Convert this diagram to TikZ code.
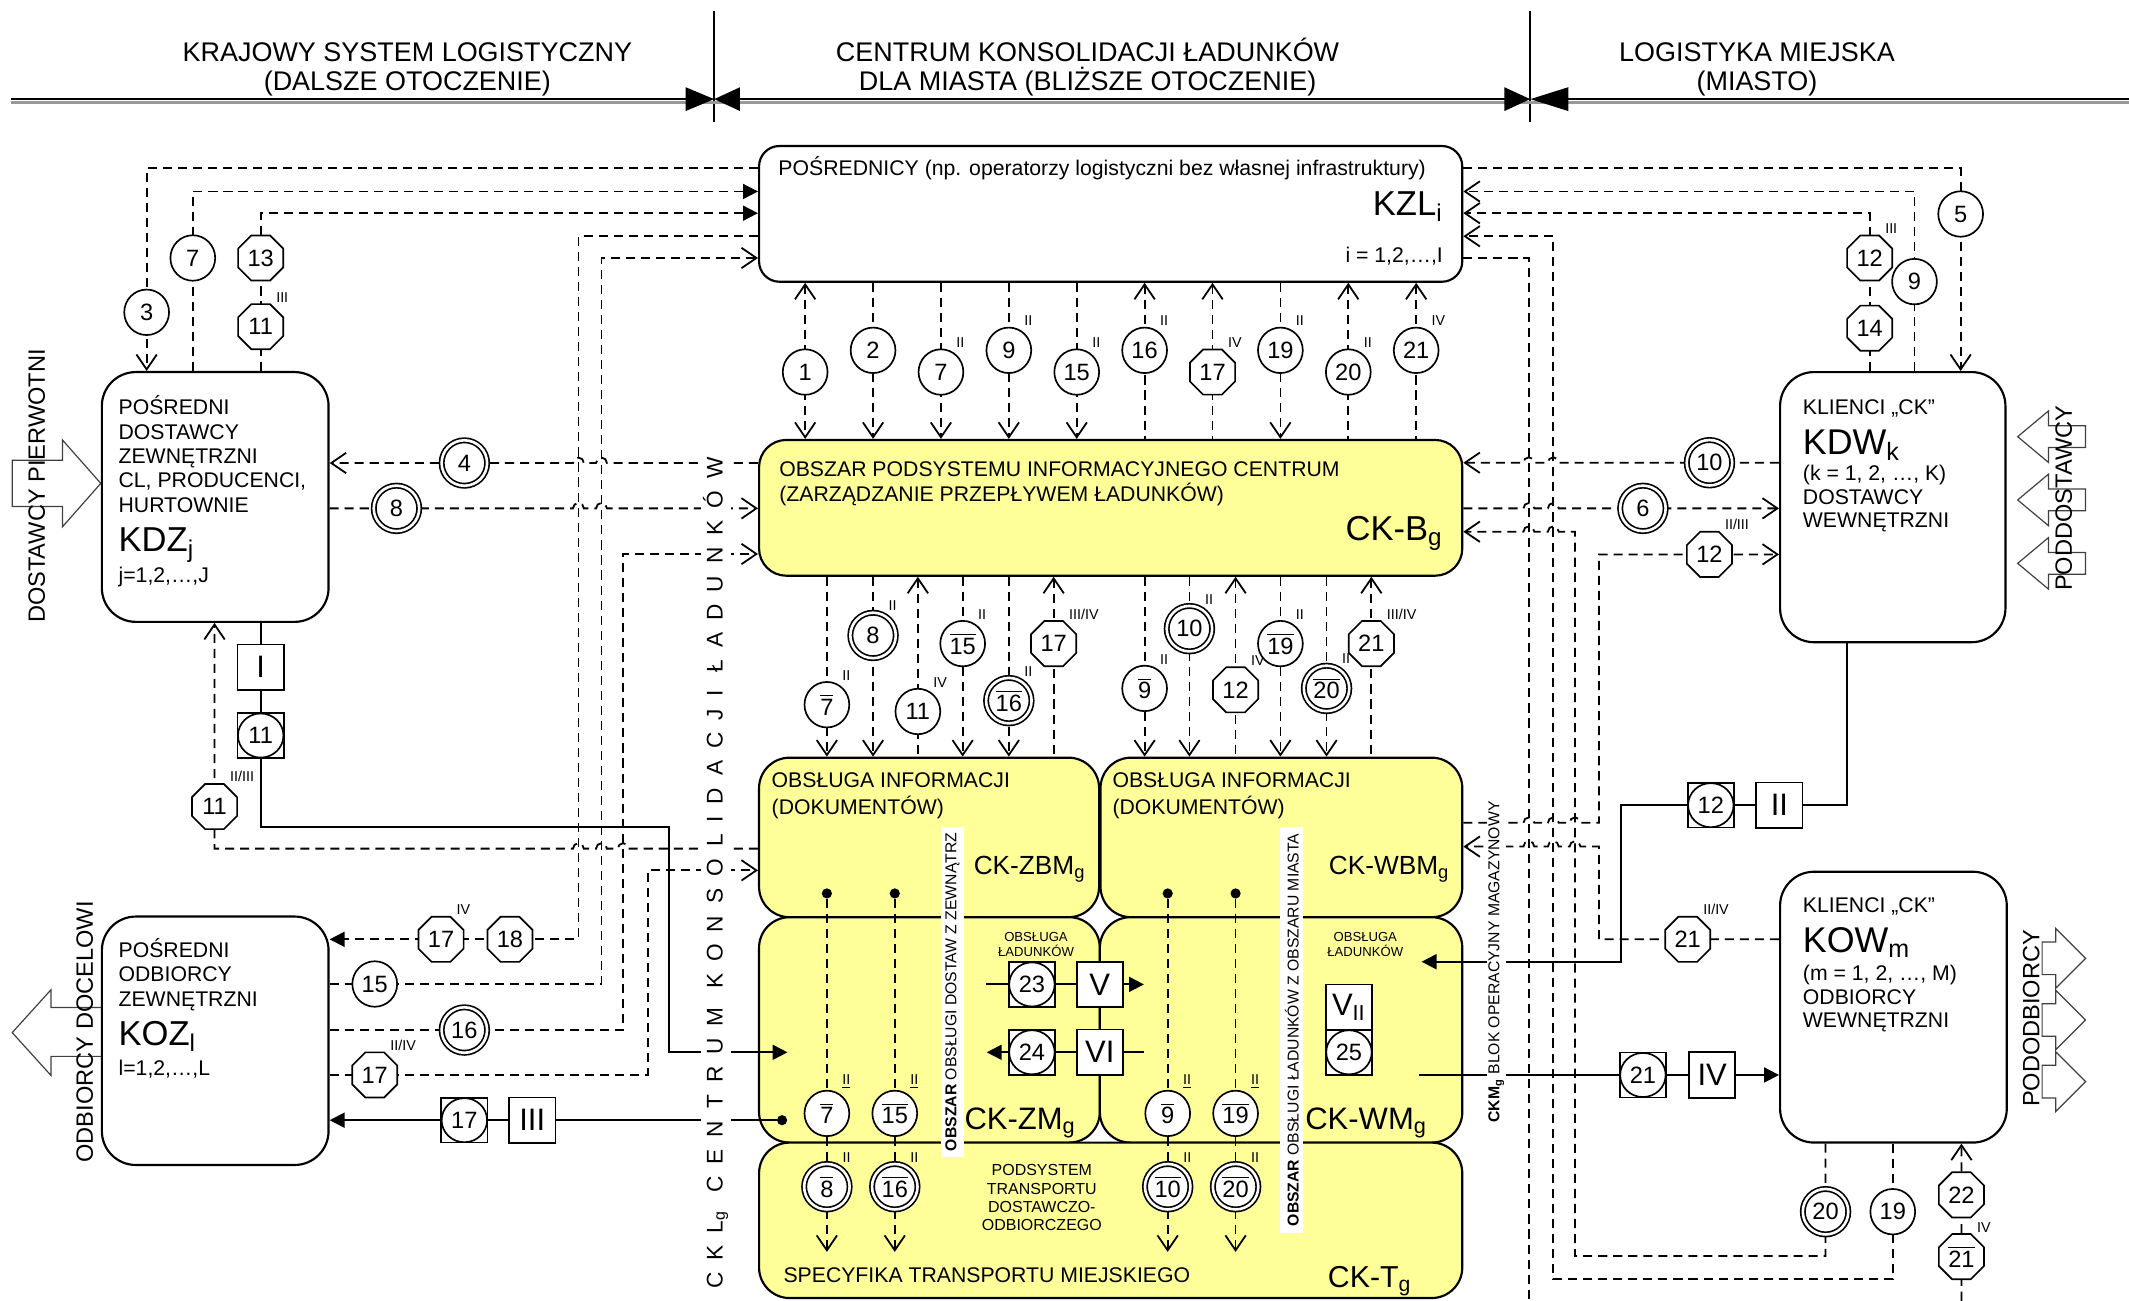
\documentclass[tikz,border=0pt]{standalone}
\usepackage{fontspec}
\setmainfont{Liberation Sans}
\usetikzlibrary{arrows.meta,shapes.geometric,positioning}
\definecolor{ckyellow}{RGB}{255,255,153}
\newcommand\fsz[2]{\fontsize{#1}{#2}\selectfont}
\newcommand\ov[1]{$\overline{\mbox{#1}}$}
\pgfdeclarelayer{boxes}
\pgfdeclarelayer{wires}
\pgfsetlayers{boxes,wires,main}
\tikzset{
  sl/.style={line width=0.85pt},
  hl/.style={line width=1.1pt},
  dl/.style={line width=0.75pt,dash pattern=on 3.8pt off 2.5pt},
  fe/.style={-{Triangle[length=2.2mm,width=2.2mm]}},
  fs/.style={{Triangle[length=2.2mm,width=2.2mm]}-},
  blk/.style={line width=0.5pt,black!75},
  wbox/.style={draw,line width=0.9pt,fill=white,inner sep=0pt},
  ybox/.style={draw,line width=0.9pt,fill=ckyellow,inner sep=0pt,rounded corners=0.45cm},
  num/.style={ellipse,draw,fill=white,line width=0.7pt,inner sep=0pt,minimum width=0.66cm,minimum height=0.67cm,font=\fsz{9.9}{9.9}},
  dnum/.style={num,double,double distance=1.1pt,minimum width=0.67cm,minimum height=0.67cm},
  oct/.style={regular polygon,regular polygon sides=8,draw,fill=white,line width=0.7pt,inner sep=0pt,minimum size=0.72cm,font=\fsz{9.9}{9.9}},
  bnum/.style={rectangle,draw,fill=white,line width=0.7pt,inner sep=0pt,minimum width=0.68cm,minimum height=0.66cm,font=\fsz{9.9}{9.9},
    path picture={\draw[line width=0.7pt] (path picture bounding box.center) ellipse[x radius=0.335cm,y radius=0.325cm];}},
  rom/.style={rectangle,draw,fill=white,line width=0.7pt,inner sep=0pt,minimum width=0.68cm,minimum height=0.67cm,font=\fsz{13}{13}},
  dot/.style={circle,fill,inner sep=0pt,minimum size=0.15cm},
  sup/.style={font=\fsz{6}{6},inner sep=0pt,anchor=south west,yshift=2.5pt},
  hd/.style={font=\fsz{11.3}{11.3},inner sep=0pt,anchor=base},
  txt/.style={font=\fsz{8.9}{8.9},inner sep=0pt,anchor=base west},
  big/.style={font=\fsz{14.5}{14.5},inner sep=0pt},
  vt/.style={rotate=90,font=\fsz{9.9}{9.9},inner sep=0pt},
  strip/.style={rotate=90,fill=white,inner sep=0pt,minimum height=0.34cm,font=\fsz{6.6}{6.6}},
}
\begin{document}
\begin{tikzpicture}[x=0.02cm,y=-0.02cm,>={Straight Barb[length=2.2mm,width=3mm]}]
\useasboundingbox (0,0) rectangle (1568,958);

\coordinate (h0) at (8,73);
\coordinate (h1) at (526,73);
\coordinate (h2) at (1127,73);
\coordinate (h3) at (1568,73);
\draw[sl] (526,8) -- (526,90);
\draw[sl] (1127,8) -- (1127,90);
\draw[black!40,line width=1pt] (8,75.5) -- (1568,75.5);
\draw[hl,-{Triangle[length=4.2mm,width=3.4mm]}] (h0) -- (h1);
\draw[hl,{Triangle[length=3.8mm,width=3.4mm]}-{Triangle[length=3.8mm,width=3.4mm]}] (h1) -- (h2);
\draw[hl,{Triangle[length=5.6mm,width=3.4mm]}-] (h2) -- (h3);
\node[hd] (hl1) at (300,45) {KRAJOWY SYSTEM LOGISTYCZNY};
\node[hd] (hl2) at (300,67) {(DALSZE OTOCZENIE)};
\node[hd] (hc1) at (801,45) {CENTRUM KONSOLIDACJI ŁADUNKÓW};
\node[hd] (hc2) at (801,67) {DLA MIASTA (BLIŻSZE OTOCZENIE)};
\node[hd] (hr1) at (1294,45) {LOGISTYKA MIEJSKA};
\node[hd] (hr2) at (1294,67) {(MIASTO)};

\begin{pgfonlayer}{boxes}
\node[wbox,rounded corners=0.3cm,minimum width=10.36cm,minimum height=2cm] (kzl) at (818,157.5) {};
\node[ybox,rounded corners=0.4cm,minimum width=10.36cm,minimum height=2cm] (ckb) at (818,374) {};
\node[wbox,rounded corners=0.5cm,minimum width=3.34cm,minimum height=3.68cm] (kdz) at (158.5,366) {};
\node[wbox,rounded corners=0.5cm,minimum width=3.34cm,minimum height=3.66cm] (koz) at (158.5,766.5) {};
\node[wbox,rounded corners=0.5cm,minimum width=3.32cm,minimum height=3.98cm] (kdw) at (1394,373.5) {};
\node[wbox,rounded corners=0.5cm,minimum width=3.34cm,minimum height=3.99cm] (kow) at (1394.5,741.75) {};
\node[ybox,minimum width=5.01cm,minimum height=2.35cm] (zbm) at (684.25,616.75) {};
\node[ybox,minimum width=5.33cm,minimum height=2.35cm] (wbm) at (943.75,616.75) {};
\node[ybox,minimum width=5.02cm,minimum height=3.32cm] (zm) at (684.5,758.5) {};
\node[ybox,minimum width=5.34cm,minimum height=3.32cm] (wm) at (943.5,758.5) {};
\node[ybox,minimum width=10.36cm,minimum height=2.29cm] (ckt) at (818,898.75) {};
\end{pgfonlayer}

\node[txt] (kzlt) at (573,129.6) {POŚREDNICY (np. operatorzy logistyczni bez własnej infrastruktury)};
\node[big,anchor=base east] (kzll) at (1063,158.8) {KZL\textsubscript{i}};
\node[txt,anchor=base east] (kzli) at (1063,193.4) {i = 1,2,…,I};
\node[txt] (ckbt1) at (573.6,350.6) {OBSZAR PODSYSTEMU INFORMACYJNEGO CENTRUM};
\node[txt] (ckbt2) at (573.6,369.4) {(ZARZĄDZANIE PRZEPŁYWEM ŁADUNKÓW)};
\node[big,anchor=base east] (ckbl) at (1063,398) {CK-B\textsubscript{g}};

\node[txt] (kdz1) at (87,305.6) {POŚREDNI};
\node[txt] (kdz2) at (87,323.5) {DOSTAWCY};
\node[txt] (kdz3) at (87,341.4) {ZEWNĘTRZNI};
\node[txt] (kdz4) at (87,359.3) {CL, PRODUCENCI,};
\node[txt] (kdz5) at (87,377.2) {HURTOWNIE};
\node[big,anchor=base west] (kdzl) at (87,406.3) {KDZ\textsubscript{j}};
\node[txt] (kdz6) at (87,429) {j=1,2,…,J};

\node[txt] (koz1) at (87,705.3) {POŚREDNI};
\node[txt] (koz2) at (87,723.2) {ODBIORCY};
\node[txt] (koz3) at (87,741.1) {ZEWNĘTRZNI};
\node[big,anchor=base west] (kozl) at (87,770) {KOZ\textsubscript{l}};
\node[txt] (koz4) at (87,792.2) {l=1,2,…,L};

\node[txt] (kdw1) at (1327.5,305) {KLIENCI „CK”};
\node[big,anchor=base west,font=\fsz{15}{15}] (kdwl) at (1327.5,334.5) {KDW\textsubscript{k}};
\node[txt] (kdw2) at (1327.5,354.1) {(k = 1, 2, …, K)};
\node[txt] (kdw3) at (1327.5,371.3) {DOSTAWCY};
\node[txt] (kdw4) at (1327.5,388.5) {WEWNĘTRZNI};

\node[txt] (kow1) at (1327.5,672) {KLIENCI „CK”};
\node[big,anchor=base west,font=\fsz{15}{15}] (kowl) at (1327.5,701.2) {KOW\textsubscript{m}};
\node[txt] (kow2) at (1327.5,722.4) {(m = 1, 2, …, M)};
\node[txt] (kow3) at (1327.5,739.5) {ODBIORCY};
\node[txt] (kow4) at (1327.5,756.5) {WEWNĘTRZNI};

\node[txt] (zbm1) at (568,580) {OBSŁUGA INFORMACJI};
\node[txt] (zbm2) at (568,599.6) {(DOKUMENTÓW)};
\node[anchor=base east,inner sep=0pt,font=\fsz{11}{11}] (zbml) at (800,644) {CK-ZBM\textsubscript{g}};
\node[txt] (wbm1) at (819,580) {OBSŁUGA INFORMACJI};
\node[txt] (wbm2) at (819,599.6) {(DOKUMENTÓW)};
\node[anchor=base east,inner sep=0pt,font=\fsz{11}{11}] (wbml) at (1068,644) {CK-WBM\textsubscript{g}};
\node[anchor=base west,inner sep=0pt,font=\fsz{13}{13}] (zml) at (710,831.5) {CK-ZM\textsubscript{g}};
\node[anchor=base west,inner sep=0pt,font=\fsz{13}{13}] (wml) at (961,831.5) {CK-WM\textsubscript{g}};
\node[txt] (ckt1) at (576.7,944.6) {SPECYFIKA TRANSPORTU MIEJSKIEGO};
\node[anchor=base west,inner sep=0pt,font=\fsz{12.7}{12.7}] (cktl) at (977.7,948) {CK-T\textsubscript{g}};
\node[align=center,inner sep=0pt,font=\fsz{6.7}{7.6}] (pst) at (767.3,882) {PODSYSTEM\\TRANSPORTU\\DOSTAWCZO-\\ODBIORCZEGO};
\node[align=center,inner sep=0pt,font=\fsz{5.5}{6.3}] (olz) at (763,695.5) {OBSŁUGA\\ŁADUNKÓW};
\node[align=center,inner sep=0pt,font=\fsz{5.5}{6.3}] (olw) at (1005.5,695.5) {OBSŁUGA\\ŁADUNKÓW};

\node[strip,minimum width=4.86cm] (s1) at (701.5,730.5) {\textbf{OBSZAR} OBSŁUGI DOSTAW Z ZEWNĄTRZ};
\node[strip,minimum width=5.98cm] (s2) at (951.5,758.5) {\textbf{OBSZAR} OBSŁUGI ŁADUNKÓW Z OBSZARU MIASTA};
\node[rotate=90,fill=white,inner sep=0.6pt,font=\fsz{6.6}{6.6}] (ckm) at (1102,708.5) {\textbf{CKM\textsubscript{g}} BLOK OPERACYJNY MAGAZYNOWY};
\node[rotate=90,fill=white,inner sep=1pt,font={\fsz{9.5}{9.5}\addfontfeature{LetterSpace=53}}] (ckl) at (527,643) {CKL\textsubscript{g} CENTRUM KONSOLIDACJI ŁADUNKÓW};

\node[vt] (dpw) at (27,358) {DOSTAWCY PIERWOTNI};
\node[vt] (odc) at (62.5,760) {ODBIORCY DOCELOWI};
\node[vt] (pdw) at (1520,367) {PODDOSTAWCY};
\node[vt] (pod) at (1496,750) {PODODBIORCY};

\node[num] (kb1) at (593,274) {1};
\node[num] (kb2) at (643,258) {2};
\node[num,label={[sup]50:II}] (kb7) at (693,274) {7};
\node[num,label={[sup]50:II}] (kb9) at (743,258) {9};
\node[num,label={[sup]50:II}] (kb15) at (793,274) {15};
\node[num,label={[sup]50:II}] (kb16) at (843,258) {16};
\node[oct,label={[sup]50:IV}] (kb17) at (893,274) {17};
\node[num,label={[sup]50:II}] (kb19) at (943,258) {19};
\node[num,label={[sup]50:II}] (kb20) at (993,274) {20};
\node[num,label={[sup]50:IV}] (kb21) at (1043,258) {21};

\node[num,label={[sup]50:II}] (bz7) at (609,519) {\ov{7}};
\node[dnum,label={[sup]50:II}] (bz8) at (643,468) {8};
\node[num,label={[sup]50:IV}] (bz11) at (676,524) {11};
\node[num,label={[sup]50:II}] (bz15) at (709,474) {\ov{15}};
\node[dnum,label={[sup]50:II}] (bz16) at (743,516) {\ov{16}};
\node[oct,label={[sup]50:III/IV}] (bz17) at (776,474) {17};
\node[num,label={[sup]50:II}] (bw9) at (843,507) {\ov{9}};
\node[dnum,label={[sup]50:II}] (bw10) at (876,463) {10};
\node[oct,label={[sup]50:IV}] (bw12) at (910,508) {12};
\node[num,label={[sup]50:II}] (bw19) at (943,474) {\ov{19}};
\node[dnum,label={[sup]50:II}] (bw20) at (977,507) {\ov{20}};
\node[oct,label={[sup]50:III/IV}] (bw21) at (1010,474) {21};

\node[dot] (dz1) at (609,658) {};
\node[dot] (dz2) at (659,658) {};
\node[dot] (dw1) at (860,658) {};
\node[dot] (dw2) at (910,658) {};
\node[dot] (dz0) at (576,825) {};
\node[num,label={[sup]50:\underline{II}}] (zm7) at (609,820) {\ov{7}};
\node[num,label={[sup]50:\underline{II}}] (zm15) at (659,820) {\ov{15}};
\node[num,label={[sup]50:\underline{II}}] (wm9) at (860,820) {\ov{9}};
\node[num,label={[sup]50:\underline{II}}] (wm19) at (910,820) {\ov{19}};
\node[dnum,label={[sup]50:II}] (ct8) at (609,874) {\ov{8}};
\node[dnum,label={[sup]50:II}] (ct16) at (659,874) {\ov{16}};
\node[dnum,label={[sup]50:II}] (ct10) at (860,874) {\ov{10}};
\node[dnum,label={[sup]50:II}] (ct20) at (910,874) {\ov{20}};

\node[bnum] (b23) at (760,725) {23};
\node[rom] (rV) at (810,725) {V};
\node[bnum] (b24) at (760,775) {24};
\node[rom] (rVI) at (810,775) {VI};
\node[rom] (rV2) at (993.5,741.75) {V\textsubscript{II}};
\node[bnum] (b25) at (993.5,775) {25};
\coordinate (v1) at (726,725);
\coordinate (v2) at (842.5,725);
\coordinate (v3) at (726.7,775);
\coordinate (v4) at (842.5,775);

\node[num] (l3) at (108,230) {3};
\node[num] (l7) at (142,190) {7};
\node[oct] (l13) at (192,190) {13};
\node[oct,label={[sup]50:III}] (l11) at (192,240.6) {11};
\node[dnum] (l4) at (342,341) {4};
\node[dnum] (l8) at (292,374.4) {8};
\node[rom] (rI) at (192,491.3) {I};
\node[bnum] (b11) at (192,541.7) {11};
\node[oct,label={[sup]50:II/III}] (l11b) at (158,594) {11};
\node[oct,label={[sup]50:IV}] (o17a) at (324.8,691.8) {17};
\node[oct] (o18) at (375.6,691.8) {18};
\node[num] (o15) at (276,724.7) {15};
\node[dnum] (o16) at (342,758.6) {16};
\node[oct,label={[sup]50:II/IV}] (o17b) at (276,791.7) {17};
\node[bnum] (b17) at (342,825) {17};
\node[rom] (rIII) at (392,825) {III};
\coordinate (zmin) at (580,775);

\node[num] (r5) at (1444,157.6) {5};
\node[num] (r9) at (1410,207.4) {9};
\node[oct,label={[sup]50:III}] (r12) at (1377,190) {12};
\node[oct] (r14) at (1377,241.7) {14};
\node[dnum] (r10) at (1259,340.8) {10};
\node[dnum] (r6) at (1210,374.4) {6};
\node[oct,label={[sup]50:II/III}] (r12b) at (1259,408.3) {12};
\node[oct,label={[sup]50:II/IV}] (r21) at (1243,691.8) {21};
\node[bnum] (b12) at (1260,593) {12};
\node[rom] (rII) at (1310.5,593) {II};
\node[bnum] (b21) at (1210,791.7) {21};
\node[rom] (rIV) at (1261,791.7) {IV};
\node[dnum] (r20) at (1344.5,892.4) {20};
\node[num] (r19) at (1394,892.4) {19};
\node[oct] (r22) at (1444.6,880) {22};
\node[oct,label={[sup]50:IV}] (r21b) at (1444.6,925.5) {\ov{21}};
\coordinate (wmin) at (1047,708.3);
\coordinate (wmout) at (1045,791.7);

\begin{pgfonlayer}{wires}
\draw[blk] (9,339) -- (46,339) -- (46,324) -- (kdz.west |- 0,356) -- (46,388) -- (46,373) -- (9,373) -- cycle;
\draw[blk] (koz.west |- 0,742) -- (37.5,742) -- (37.5,729) -- (9,760.5) -- (37.5,792) -- (37.5,778) -- (koz.west |- 0,778);
\draw[blk] (1536,313.6) -- (1508.7,313.6) -- (1508.7,302.6) -- (1486,321.6) -- (1508.7,340.6) -- (1508.7,329.6) -- (1536,329.6) -- cycle;
\draw[blk] (1536,360.2) -- (1508.7,360.2) -- (1508.7,349.2) -- (1486,368.2) -- (1508.7,387.2) -- (1508.7,376.2) -- (1536,376.2) -- cycle;
\draw[blk] (1536,406.9) -- (1508.7,406.9) -- (1508.7,395.9) -- (1486,414.9) -- (1508.7,433.9) -- (1508.7,422.9) -- (1536,422.9) -- cycle;
\draw[blk] (1504,693.8) -- (1514,693.8) -- (1514,683.8) -- (1536,705.8) -- (1514,727.8) -- (1514,717.8) -- (1504,717.8) -- cycle;
\draw[blk] (1504,739.2) -- (1514,739.2) -- (1514,729.2) -- (1536,751.2) -- (1514,773.2) -- (1514,763.2) -- (1504,763.2) -- cycle;
\draw[blk] (1504,784.6) -- (1514,784.6) -- (1514,774.6) -- (1536,796.6) -- (1514,818.6) -- (1514,808.6) -- (1504,808.6) -- cycle;

\draw[dl,<->] (kzl.south -| kb1) -- (ckb.north -| kb1);
\draw[dl,->] (kzl.south -| kb2) -- (ckb.north -| kb2);
\draw[dl,->] (kzl.south -| kb7) -- (ckb.north -| kb7);
\draw[dl,->] (kzl.south -| kb9) -- (ckb.north -| kb9);
\draw[dl,->] (kzl.south -| kb15) -- (ckb.north -| kb15);
\draw[dl,<-] (kzl.south -| kb16) -- (ckb.north -| kb16);
\draw[dl,<-] (kzl.south -| kb17) -- (ckb.north -| kb17);
\draw[dl,->] (kzl.south -| kb19) -- (ckb.north -| kb19);
\draw[dl,<-] (kzl.south -| kb20) -- (ckb.north -| kb20);
\draw[dl,<-] (kzl.south -| kb21) -- (ckb.north -| kb21);

\draw[dl,->] (ckb.south -| bz7) -- (zbm.north -| bz7);
\draw[dl,->] (ckb.south -| bz8) -- (zbm.north -| bz8);
\draw[dl,<-] (ckb.south -| bz11) -- (zbm.north -| bz11);
\draw[dl,->] (ckb.south -| bz15) -- (zbm.north -| bz15);
\draw[dl,->] (ckb.south -| bz16) -- (zbm.north -| bz16);
\draw[dl,<-] (ckb.south -| bz17) -- (zbm.north -| bz17);
\draw[dl,->] (ckb.south -| bw9) -- (wbm.north -| bw9);
\draw[dl,->] (ckb.south -| bw10) -- (wbm.north -| bw10);
\draw[dl,<-] (ckb.south -| bw12) -- (wbm.north -| bw12);
\draw[dl,->] (ckb.south -| bw19) -- (wbm.north -| bw19);
\draw[dl,->] (ckb.south -| bw20) -- (wbm.north -| bw20);
\draw[dl,<-] (ckb.south -| bw21) -- (wbm.north -| bw21);

\draw[dl,->] (dz1) -- (zm7) -- (ct8) -- (ct8 |- 0,922);
\draw[dl,->] (dz2) -- (zm15) -- (ct16) -- (ct16 |- 0,922);
\draw[dl,->] (dw1) -- (wm9) -- (ct10) -- (ct10 |- 0,922);
\draw[dl,->] (dw2) -- (wm19) -- (ct20) -- (ct20 |- 0,922);
\draw[sl,fe] (v1) -- (b23) -- (rV) -- (v2);
\draw[sl,fe] (v4) -- (rVI) -- (b24) -- (v3);

\draw[dl,->] (kzl.west |- 0,124) -| (kdz.north -| l3);
\draw[dl,fs] (kzl.west |- 0,141) -| (kdz.north -| l7);
\draw[dl,fs] (kzl.west |- 0,157) -| (kdz.north -| l13);
\draw[dl,fe] (kzl.west |- 0,174) -| (426,691.8) -- (koz.east |- 0,691.8);
\draw[dl,->] (koz.east |- 0,724.7) -| (443,190) -- (kzl.west |- 0,190);
\draw[dl,->] (koz.east |- 0,758.6) -| (459,408) -- (ckb.west |- 0,408);
\draw[dl,->] (koz.east |- 0,791.7) -| (477,641) -- (zbm.west |- 0,641);
\draw[dl,->] (ckb.west |- 0,341) -- (447,341) arc[start angle=0,end angle=180,radius=0.08cm] -- (430,341) arc[start angle=0,end angle=180,radius=0.08cm] -- (kdz.east |- 0,341);
\draw[dl,->] (kdz.east |- 0,374.4) -- (422,374.4) arc[start angle=180,end angle=0,radius=0.08cm] -- (439,374.4) arc[start angle=180,end angle=0,radius=0.08cm] -- (ckb.west |- 0,374.4);
\draw[dl,->] (zbm.west |- 0,625) -- (463,625) arc[start angle=0,end angle=180,radius=0.08cm] -- (447,625) arc[start angle=0,end angle=180,radius=0.08cm] -- (430,625) arc[start angle=0,end angle=180,radius=0.08cm] -- (l11b |- 0,625) -- (kdz.south -| l11b);
\draw[sl,fe] (kdz.south -| rI) -- (rI) -- (b11) -- (b11 |- 0,609) -| (493,775) -- (zmin);
\draw[sl,fe] (dz0) -- (rIII) -- (b17) -- (koz.east |- dz0);

\draw[dl,->] (kzl.east |- 0,124) -| (kdw.north -| r5);
\draw[dl,->] (kdw.north -| r9) |- (kzl.east |- 0,141);
\draw[dl,->] (kdw.north -| r12) |- (kzl.east |- 0,157);
\draw[dl,->] (kow.south -| r19) |- (1144,942) |- (kzl.east |- 0,174);
\draw[dl] (kzl.east |- 0,190) -| (1126,958);
\draw[dl,->] (kow.south -| r20) |- (1160,925) -- (1160,391.6) -- (1148,391.6) arc[start angle=0,end angle=180,radius=0.08cm] -- (1130,391.6) arc[start angle=0,end angle=180,radius=0.08cm] -- (ckb.east |- 0,391.6);
\draw[dl,->] (1444.6,958) -- (r21b) -- (r22) -- (kow.south -| r22);
\draw[dl,->] (kdw.west |- 0,340.8) -- (1148,340.8) arc[start angle=0,end angle=180,radius=0.08cm] -- (1130,340.8) arc[start angle=0,end angle=180,radius=0.08cm] -- (ckb.east |- 0,340.8);
\draw[dl,->] (ckb.east |- 0,374.4) -- (1122,374.4) arc[start angle=180,end angle=0,radius=0.08cm] -- (1140,374.4) arc[start angle=180,end angle=0,radius=0.08cm] -- (kdw.west |- 0,374.4);
\draw[dl,->] (wbm.east |- 0,606) -- (1122,606) arc[start angle=180,end angle=0,radius=0.08cm] -- (1140,606) arc[start angle=180,end angle=0,radius=0.08cm] -- (1156,606) arc[start angle=180,end angle=0,radius=0.08cm] -- (1177.6,606) |- (kdw.west |- 0,408.3);
\draw[dl,->] (kow.west |- 0,691.8) -| (1177.6,623.5) -- (1164,623.5) arc[start angle=0,end angle=180,radius=0.08cm] -- (1148,623.5) arc[start angle=0,end angle=180,radius=0.08cm] -- (1130,623.5) arc[start angle=0,end angle=180,radius=0.08cm] -- (wbm.east |- 0,623.5);
\draw[sl,fe] (kdw.south -| 1360,0) |- (rII) -- (b12) -- (1193.7,593) |- (wmin);
\draw[sl,fe] (wmout) -- (b21) -- (rIV) -- (kow.west |- wmout);
\end{pgfonlayer}
\end{tikzpicture}
\end{document}
